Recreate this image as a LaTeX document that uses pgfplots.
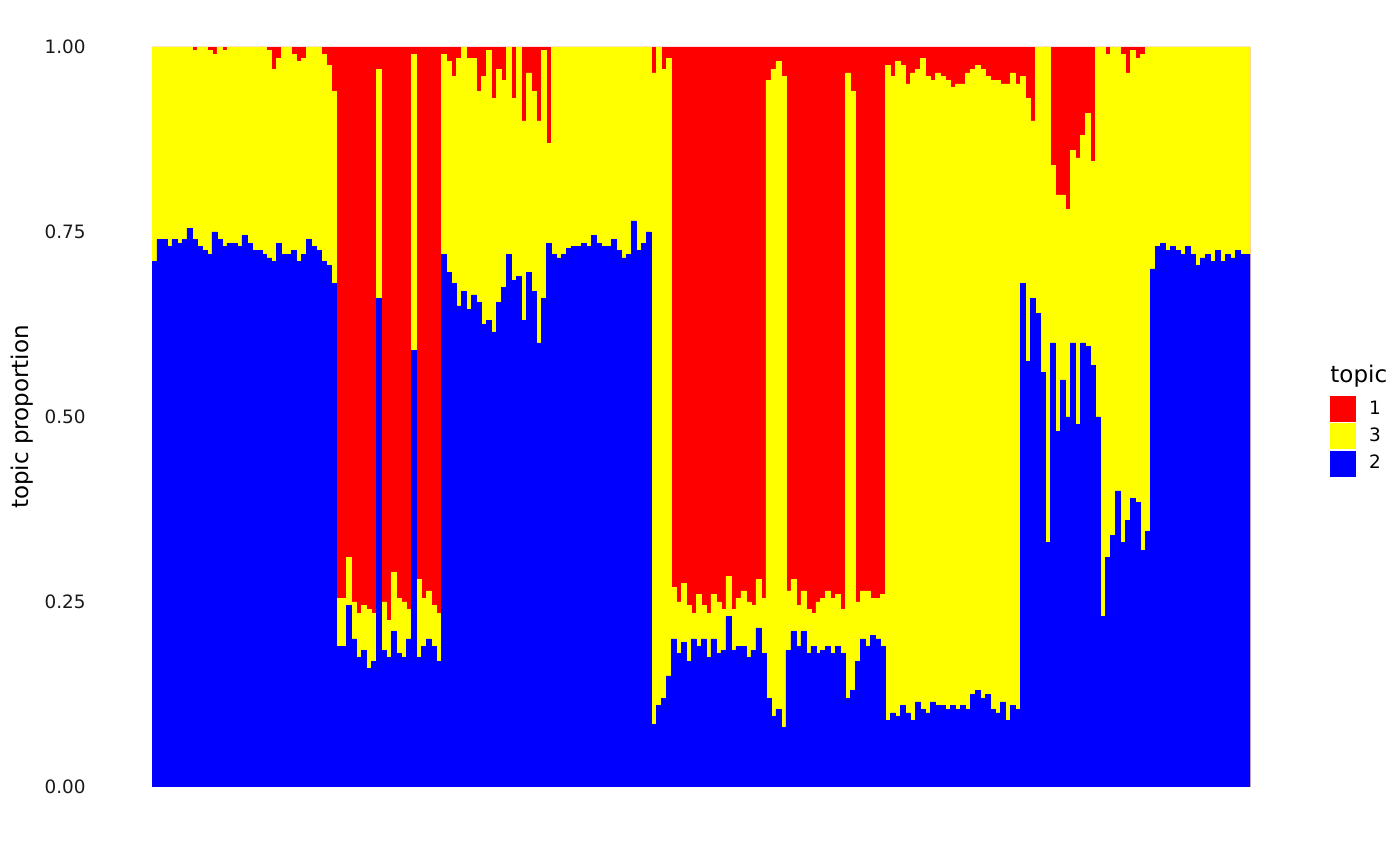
\documentclass[border=0pt]{standalone}
\usepackage{fontspec}
\setmainfont{DejaVu Sans}
\usepackage{pgfplots}
\usepackage{pgfplotstable}
\pgfplotsset{compat=1.18}

\definecolor{topicred}{RGB}{255,0,0}
\definecolor{topicyellow}{RGB}{255,255,0}
\definecolor{topicblue}{RGB}{0,0,255}

% one row per sample: b = topic 2, t = topic 2 + topic 3 (cumulative), a = total
\pgfplotstableread{
i b t a
0 0.71 1.0 1
1 0.74 1.0 1
2 0.74 1.0 1
3 0.73 1.0 1
4 0.74 1.0 1
5 0.735 1.0 1
6 0.74 1.0 1
7 0.755 1.0 1
8 0.74 0.995 1
9 0.73 1.0 1
10 0.725 1.0 1
11 0.72 0.995 1
12 0.75 0.99 1
13 0.74 1.0 1
14 0.73 0.995 1
15 0.735 1.0 1
16 0.735 1.0 1
17 0.73 1.0 1
18 0.745 1.0 1
19 0.735 1.0 1
20 0.725 1.0 1
21 0.725 1.0 1
22 0.72 1.0 1
23 0.715 0.995 1
24 0.71 0.97 1
25 0.735 0.985 1
26 0.72 1.0 1
27 0.72 1.0 1
28 0.725 0.99 1
29 0.71 0.98 1
30 0.72 0.985 1
31 0.74 1.0 1
32 0.73 1.0 1
33 0.725 1.0 1
34 0.71 0.99 1
35 0.705 0.975 1
36 0.68 0.94 1
37 0.19 0.255 1
38 0.19 0.255 1
39 0.245 0.31 1
40 0.2 0.25 1
41 0.175 0.235 1
42 0.185 0.245 1
43 0.16 0.24 1
44 0.17 0.235 1
45 0.66 0.97 1
46 0.185 0.25 1
47 0.175 0.225 1
48 0.21 0.29 1
49 0.18 0.255 1
50 0.175 0.25 1
51 0.2 0.24 1
52 0.59 0.99 1
53 0.175 0.28 1
54 0.19 0.255 1
55 0.2 0.265 1
56 0.19 0.245 1
57 0.17 0.235 1
58 0.72 0.99 1
59 0.695 0.98 1
60 0.68 0.96 1
61 0.65 0.985 1
62 0.67 1.0 1
63 0.645 0.985 1
64 0.665 0.985 1
65 0.655 0.94 1
66 0.625 0.96 1
67 0.63 0.995 1
68 0.615 0.93 1
69 0.655 0.97 1
70 0.675 0.955 1
71 0.72 1.0 1
72 0.685 0.93 1
73 0.69 1.0 1
74 0.63 0.9 1
75 0.695 0.965 1
76 0.67 0.94 1
77 0.6 0.9 1
78 0.66 0.995 1
79 0.735 0.87 1
80 0.72 1.0 1
81 0.715 1.0 1
82 0.72 1.0 1
83 0.728 1.0 1
84 0.73 1.0 1
85 0.73 1.0 1
86 0.735 1.0 1
87 0.73 1.0 1
88 0.745 1.0 1
89 0.735 1.0 1
90 0.73 1.0 1
91 0.73 1.0 1
92 0.74 1.0 1
93 0.725 1.0 1
94 0.715 1.0 1
95 0.72 1.0 1
96 0.765 1.0 1
97 0.725 1.0 1
98 0.735 1.0 1
99 0.75 1.0 1
100 0.085 0.965 1
101 0.11 1.0 1
102 0.12 0.97 1
103 0.15 0.985 1
104 0.2 0.27 1
105 0.18 0.25 1
106 0.195 0.275 1
107 0.17 0.245 1
108 0.2 0.235 1
109 0.19 0.26 1
110 0.2 0.245 1
111 0.175 0.235 1
112 0.2 0.26 1
113 0.18 0.25 1
114 0.185 0.24 1
115 0.23 0.285 1
116 0.185 0.24 1
117 0.19 0.255 1
118 0.19 0.265 1
119 0.175 0.25 1
120 0.185 0.245 1
121 0.215 0.28 1
122 0.18 0.255 1
123 0.12 0.955 1
124 0.095 0.97 1
125 0.105 0.98 1
126 0.08 0.96 1
127 0.185 0.265 1
128 0.21 0.28 1
129 0.19 0.245 1
130 0.21 0.265 1
131 0.18 0.24 1
132 0.19 0.235 1
133 0.18 0.25 1
134 0.185 0.255 1
135 0.19 0.265 1
136 0.18 0.255 1
137 0.19 0.26 1
138 0.18 0.24 1
139 0.12 0.965 1
140 0.13 0.94 1
141 0.17 0.25 1
142 0.2 0.265 1
143 0.19 0.265 1
144 0.205 0.255 1
145 0.2 0.255 1
146 0.19 0.26 1
147 0.09 0.975 1
148 0.1 0.96 1
149 0.095 0.98 1
150 0.11 0.975 1
151 0.1 0.95 1
152 0.09 0.965 1
153 0.115 0.97 1
154 0.105 0.985 1
155 0.1 0.96 1
156 0.115 0.955 1
157 0.11 0.965 1
158 0.11 0.96 1
159 0.105 0.955 1
160 0.11 0.945 1
161 0.105 0.95 1
162 0.11 0.95 1
163 0.105 0.965 1
164 0.125 0.97 1
165 0.13 0.975 1
166 0.12 0.97 1
167 0.125 0.96 1
168 0.105 0.955 1
169 0.1 0.955 1
170 0.115 0.95 1
171 0.09 0.95 1
172 0.11 0.965 1
173 0.105 0.95 1
174 0.68 0.96 1
175 0.575 0.93 1
176 0.66 0.9 1
177 0.64 1.0 1
178 0.56 1.0 1
179 0.33 1.0 1
180 0.6 0.84 1
181 0.48 0.8 1
182 0.55 0.8 1
183 0.5 0.78 1
184 0.6 0.86 1
185 0.49 0.85 1
186 0.6 0.88 1
187 0.595 0.91 1
188 0.57 0.845 1
189 0.5 1.0 1
190 0.23 1.0 1
191 0.31 0.99 1
192 0.34 1.0 1
193 0.4 1.0 1
194 0.33 0.99 1
195 0.36 0.965 1
196 0.39 0.995 1
197 0.385 0.985 1
198 0.32 0.99 1
199 0.345 1.0 1
200 0.7 1.0 1
201 0.73 1.0 1
202 0.735 1.0 1
203 0.725 1.0 1
204 0.73 1.0 1
205 0.725 1.0 1
206 0.72 1.0 1
207 0.73 1.0 1
208 0.72 1.0 1
209 0.705 1.0 1
210 0.715 1.0 1
211 0.72 1.0 1
212 0.71 1.0 1
213 0.725 1.0 1
214 0.71 1.0 1
215 0.72 1.0 1
216 0.715 1.0 1
217 0.725 1.0 1
218 0.72 1.0 1
219 0.72 1.0 1
}\topics

\pgfplotsset{
  topicbar/.style={fill=#1, draw=#1, line width=0.3pt, bar shift=0pt,
    legend image code/.code={\fill[#1] (0pt,-6.25pt) rectangle (12.5pt,6.25pt);}},
}

\begin{document}
\begin{tikzpicture}
\path[use as bounding box] (-76pt,-39pt) rectangle (624pt,393.5pt);
\begin{axis}[
  at={(0,0)}, anchor=south west,
  scale only axis, width=549pt, height=370pt,
  xmin=-0.5, xmax=219.5, ymin=0, ymax=1,
  enlargelimits=false,
  ybar, bar width=1,
  axis line style={draw=none},
  tick style={draw=none},
  xtick=\empty,
  ytick={0,0.25,0.5,0.75,1},
  yticklabels={0.00,0.25,0.50,0.75,1.00},
  /pgf/number format/assume math mode=true,
  yticklabel style={anchor=east, inner sep=0pt, xshift=-33pt,
    font=\fontsize{9.2}{11}\selectfont, text=black!90},
  legend style={at={(rel axis cs:1.0729,0.5284)}, anchor=north west,
    draw=none, fill=none, inner sep=0pt, row sep=0.75pt,
    font=\fontsize{9.2}{11}\selectfont, cells={anchor=west},
    nodes={inner sep=0pt},
    /tikz/every odd column/.style={column sep=6.5pt}},
]
\addplot[topicbar=topicred] table[x=i, y=a] {\topics};
\addlegendentry{1}
\addplot[topicbar=topicyellow] table[x=i, y=t] {\topics};
\addlegendentry{3}
\addplot[topicbar=topicblue] table[x=i, y=b] {\topics};
\addlegendentry{2}
\end{axis}
\node[rotate=90, font=\fontsize{11.5}{13}\selectfont] at (-65pt,185pt) {topic proportion};
\node[anchor=base west, inner sep=0pt, font=\fontsize{11.5}{13}\selectfont] at (589pt,202pt) {topic};
\end{tikzpicture}
\end{document}
